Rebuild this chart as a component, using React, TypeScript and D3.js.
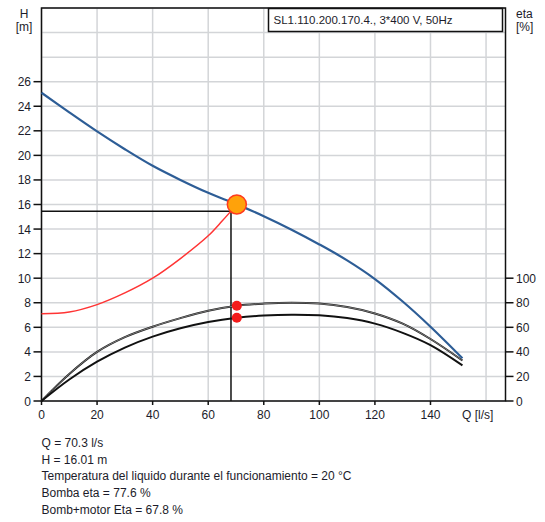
import React from "react";
import * as d3 from "d3";

const qTicks = [0, 20, 40, 60, 80, 100, 120, 140];
const hTicks = [0, 2, 4, 6, 8, 10, 12, 14, 16, 18, 20, 22, 24, 26];
const etaTicks = [0, 20, 40, 60, 80, 100];

const headQ = [0, 10, 20, 30, 40, 50, 60, 70.3, 80, 90, 100, 110, 120, 130, 140, 151.5];
const headH = [25.1, 23.5, 21.95, 20.5, 19.15, 18.0, 16.95, 16.01, 15.05, 13.95, 12.75, 11.45, 9.93, 8.1, 6.05, 3.48];

const sysQ = [0, 10, 20, 30, 40, 50, 60, 65, 70.3];
const sysH = [7.1, 7.25, 7.85, 8.8, 10.0, 11.6, 13.45, 14.65, 16.01];

const etaQ = [0, 10, 20, 30, 40, 50, 60, 70.3, 80, 90, 100, 110, 120, 130, 140, 151.5];
const pumpEta = [0, 22, 40, 52, 60.5, 67.5, 73.5, 77.6, 79.3, 80, 79.3, 76.5, 71.3, 63, 50.5, 33];
const totalEta = [0, 17.5, 32, 43.5, 52.4, 59.2, 64.3, 67.8, 69.6, 70.3, 69.8, 67.5, 63, 55.5, 45.5, 29];

const opQ = 70.3;
const opH = 16.01;
const opPumpEta = 77.6;
const opTotalEta = 67.8;
const crossQ = 68.2;
const crossH = 15.45;

const title = "SL1.110.200.170.4., 3*400 V, 50Hz";
const footer = [
  "Q = 70.3 l/s",
  "H = 16.01 m",
  "Temperatura del liquido durante el funcionamiento = 20 °C",
  "Bomba eta = 77.6 %",
  "Bomb+motor Eta = 67.8 %",
];

export default function App() {
  const W = 545;
  const Hh = 522;
  const x = d3.scaleLinear().domain([0, 167]).range([41.5, 505.5]);
  const y = d3.scaleLinear().domain([0, 32]).range([401, 8]);
  const e = d3.scaleLinear().domain([0, 100]).range([y(0), y(10)]);

  const gridQ = d3.range(0, 161, 20);
  const gridH = d3.range(0, 33, 2);

  const curve = d3.curveCatmullRom.alpha(0.5);
  const lineH = d3
    .line<number>()
    .x((_, i) => x(headQ[i]))
    .y((d) => y(d))
    .curve(curve);
  const lineS = d3
    .line<number>()
    .x((_, i) => x(sysQ[i]))
    .y((d) => y(d))
    .curve(curve);
  const lineE = d3
    .line<number>()
    .x((_, i) => x(etaQ[i]))
    .y((d) => e(d))
    .curve(curve);

  const font = "'Liberation Sans', Arial, sans-serif";
  const txt = "#1c1c2a";

  return (
    <svg width={W} height={Hh} style={{ position: "absolute", left: 0, top: 0 }} fontFamily={font}>
      <rect x={0} y={0} width={W} height={Hh} fill="#fff" />
      {gridQ.map((q) => (
        <line key={"gq" + q} x1={x(q)} x2={x(q)} y1={y(0)} y2={y(32)} stroke="#d3d5d8" strokeWidth={1.5} />
      ))}
      {gridH.map((h) => (
        <line key={"gh" + h} x1={x(0)} x2={x(167)} y1={y(h)} y2={y(h)} stroke="#d3d5d8" strokeWidth={1.5} />
      ))}
      <rect x={x(0)} y={y(32)} width={x(167) - x(0)} height={y(0) - y(32)} fill="none" stroke="#111" strokeWidth={1.5} />
      {hTicks.map((h) => (
        <g key={"ht" + h}>
          <line x1={x(0) - 8} x2={x(0)} y1={y(h)} y2={y(h)} stroke="#111" strokeWidth={1.5} />
          <text x={31} y={y(h) + 4.5} textAnchor="end" fontSize={12} fill={txt}>
            {h}
          </text>
        </g>
      ))}
      {etaTicks.map((t) => (
        <g key={"et" + t}>
          <line x1={x(167)} x2={x(167) + 8} y1={e(t)} y2={e(t)} stroke="#111" strokeWidth={1.5} />
          <text x={516} y={e(t) + 4.5} textAnchor="start" fontSize={12} fill={txt}>
            {t}
          </text>
        </g>
      ))}
      {qTicks.map((q) => (
        <g key={"qt" + q}>
          <line x1={x(q)} x2={x(q)} y1={y(0)} y2={y(0) + 4} stroke="#111" strokeWidth={1.5} />
          <text x={x(q)} y={419} textAnchor="middle" fontSize={12} fill={txt}>
            {q}
          </text>
        </g>
      ))}
      <text x={462} y={419} fontSize={12} fill={txt}>
        Q [l/s]
      </text>
      <text x={24} y={18} textAnchor="middle" fontSize={12} fill={txt}>
        H
      </text>
      <text x={24} y={31} textAnchor="middle" fontSize={12} fill={txt}>
        [m]
      </text>
      <text x={516} y={18} fontSize={12} fill={txt}>
        eta
      </text>
      <text x={516} y={31} fontSize={12} fill={txt}>
        [%]
      </text>
      <rect x={268.5} y={8.5} width={234} height={23} fill="#fff" stroke="#111" strokeWidth={1.5} />
      <text x={273.5} y={24} fontSize={11.5} fill={txt}>
        {title}
      </text>
      <line x1={x(0)} x2={x(crossQ)} y1={y(crossH)} y2={y(crossH)} stroke="#111" strokeWidth={1.5} />
      <line x1={x(crossQ)} x2={x(crossQ)} y1={y(0)} y2={y(crossH)} stroke="#111" strokeWidth={1.5} />
      <path d={lineE(pumpEta) || ""} fill="none" stroke="#1a1a1a" strokeWidth={2} />
      <path d={lineE(pumpEta) || ""} fill="none" stroke="#bbb" strokeWidth={0.6} />
      <path d={lineE(totalEta) || ""} fill="none" stroke="#111" strokeWidth={2} />
      <path d={lineS(sysH) || ""} fill="none" stroke="#ff3434" strokeWidth={1.5} />
      <path d={lineH(headH) || ""} fill="none" stroke="#2d5d96" strokeWidth={2.2} />
      <circle cx={x(opQ)} cy={e(opPumpEta)} r={5} fill="#f41c1c" />
      <circle cx={x(opQ)} cy={e(opTotalEta)} r={5} fill="#f41c1c" />
      <circle cx={x(opQ)} cy={y(opH)} r={9.5} fill="#ffa20a" stroke="#ff3a1e" strokeWidth={1.5} />
      {footer.map((s, i) => (
        <text key={"f" + i} x={41.5} y={447 + i * 16.7} fontSize={12} fill={txt}>
          {s}
        </text>
      ))}
    </svg>
  );
}
